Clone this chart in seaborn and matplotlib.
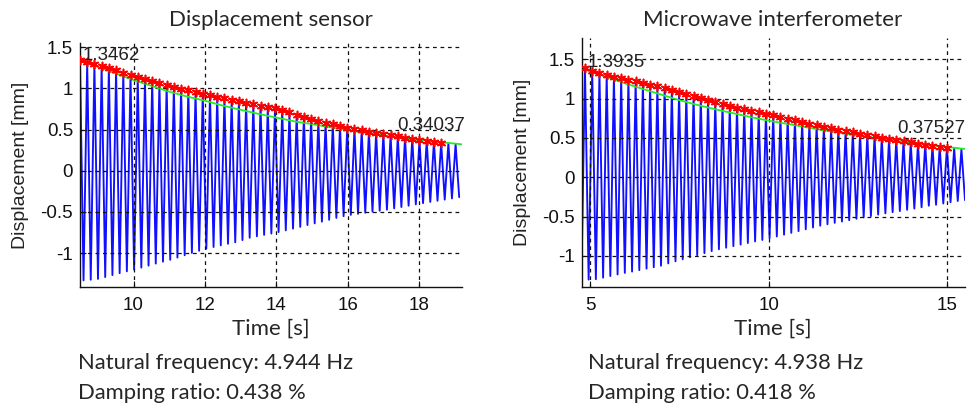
import numpy as np
import pandas as pd
import seaborn as sns
import matplotlib.pyplot as plt

# ---- Displacement sensor (left) ----
left_title = "Displacement sensor"
left_info = ["Natural frequency: 4.944 Hz", "Damping ratio: 0.438 %"]
left_peak_span = (8.50, 19.02)      # first / last peak time [s]
left_trough_span = (8.60, 19.12)    # first / last trough time [s]
left_peaks = [1.3462, 1.320, 1.292, 1.267, 1.243, 1.218, 1.190, 1.162, 1.136, 1.111,
              1.087, 1.063, 1.039, 1.017, 0.997, 0.977, 0.956, 0.936, 0.917, 0.899,
              0.881, 0.863, 0.844, 0.826, 0.808, 0.790, 0.774, 0.758, 0.734, 0.707,
              0.681, 0.655, 0.628, 0.606, 0.583, 0.562, 0.542, 0.521, 0.505, 0.489,
              0.474, 0.459, 0.445, 0.431, 0.417, 0.403, 0.389, 0.375, 0.364, 0.353,
              0.34037, 0.334, 0.325]
left_troughs = [-1.330, -1.322, -1.312, -1.290, -1.266, -1.243, -1.220, -1.198, -1.175, -1.151,
                -1.126, -1.103, -1.080, -1.053, -1.025, -0.997, -0.971, -0.946, -0.925, -0.905,
                -0.886, -0.868, -0.841, -0.813, -0.795, -0.778, -0.762, -0.744, -0.723, -0.702,
                -0.681, -0.659, -0.638, -0.617, -0.595, -0.572, -0.551, -0.535, -0.522, -0.509,
                -0.497, -0.485, -0.472, -0.456, -0.440, -0.424, -0.408, -0.393, -0.378, -0.364,
                -0.350, -0.336, -0.320]
left_n_stars = 51
left_fit_t = [8.5, 9.0, 9.5, 10.0, 10.5, 11.0, 11.5, 12.0, 12.5, 13.0, 13.5, 14.0,
              14.5, 15.0, 15.5, 16.0, 16.5, 17.0, 17.5, 18.0, 18.5, 19.0, 19.2]
left_fit_v = [1.35, 1.26, 1.18, 1.10, 1.03, 0.96, 0.90, 0.85, 0.79, 0.74, 0.69, 0.645,
              0.60, 0.565, 0.53, 0.49, 0.46, 0.43, 0.40, 0.375, 0.35, 0.33, 0.32]
left_xticks = [10, 12, 14, 16, 18]

# ---- Microwave interferometer (right) ----
right_title = "Microwave interferometer"
right_info = ["Natural frequency: 4.938 Hz", "Damping ratio: 0.418 %"]
right_peak_span = (4.86, 15.39)
right_trough_span = (4.76, 15.49)
right_peaks = [1.3935, 1.355, 1.325, 1.300, 1.280, 1.257, 1.237, 1.218, 1.198, 1.178,
               1.158, 1.135, 1.111, 1.087, 1.062, 1.037, 1.010, 0.983, 0.955, 0.928,
               0.901, 0.882, 0.864, 0.846, 0.828, 0.810, 0.791, 0.769, 0.747, 0.724,
               0.702, 0.680, 0.662, 0.644, 0.625, 0.607, 0.589, 0.571, 0.554, 0.537,
               0.520, 0.503, 0.488, 0.473, 0.458, 0.443, 0.428, 0.416, 0.403, 0.391,
               0.37527, 0.367, 0.358]
right_troughs = [-1.330, -1.300, -1.295, -1.275, -1.255, -1.235, -1.215, -1.198, -1.180, -1.161,
                 -1.143, -1.124, -1.094, -1.068, -1.042, -1.016, -0.990, -0.964, -0.938, -0.915,
                 -0.895, -0.875, -0.855, -0.835, -0.815, -0.796, -0.774, -0.752, -0.729, -0.706,
                 -0.684, -0.661, -0.638, -0.615, -0.597, -0.579, -0.562, -0.545, -0.527, -0.510,
                 -0.493, -0.474, -0.458, -0.443, -0.429, -0.413, -0.397, -0.381, -0.361, -0.349,
                 -0.333, -0.317, -0.301, -0.290]
right_n_stars = 51
right_fit_t = [4.86, 5.5, 6.0, 6.5, 7.0, 7.5, 8.0, 8.5, 9.0, 9.5, 10.0, 10.5, 11.0,
               11.5, 12.0, 12.5, 13.0, 13.5, 14.0, 14.5, 15.0, 15.5]
right_fit_v = [1.37, 1.27, 1.19, 1.12, 1.05, 0.98, 0.92, 0.865, 0.815, 0.765, 0.72, 0.68, 0.64,
               0.60, 0.565, 0.53, 0.50, 0.47, 0.44, 0.41, 0.385, 0.36]
right_xticks = [5, 10, 15]

yticks = [-1, -0.5, 0, 0.5, 1, 1.5]
ytick_labels = ["-1", "-0.5", "0", "0.5", "1", "1.5"]

sns.set_style("ticks")
plt.rcParams["font.family"] = ["Liberation Sans", "DejaVu Sans"]
ARIAL = ["Liberation Sans", "DejaVu Sans"]
SANS2 = ["Lato", "DejaVu Sans"]


def panel(ax, peak_span, peaks, trough_span, troughs, n_stars, fit_t, fit_v,
          xlim, ylim, xticks, mark_first, mark_last):
    pt = np.linspace(peak_span[0], peak_span[1], len(peaks))
    tt = np.linspace(trough_span[0], trough_span[1], len(troughs))
    sig = pd.DataFrame({"t": np.concatenate([pt, tt]),
                        "v": np.concatenate([peaks, troughs])}).sort_values("t")
    sns.lineplot(data=sig, x="t", y="v", ax=ax, color="#1010ff", lw=1.35,
                 estimator=None, sort=False, zorder=2)
    sns.lineplot(x=fit_t, y=fit_v, ax=ax, color="#22ee22", lw=1.3,
                 estimator=None, sort=False, zorder=3)
    sns.scatterplot(x=pt[:n_stars], y=peaks[:n_stars], ax=ax, marker=(6, 2, 0),
                    color="#ff0000", edgecolor="#ff0000", s=34, linewidth=1.2, zorder=4)
    ax.set_xlim(*xlim)
    ax.set_ylim(*ylim)
    ax.set_xticks(xticks)
    ax.set_yticks(yticks)
    ax.set_yticklabels(ytick_labels)
    ax.grid(True, color="#111111", linestyle=(0, (3, 3)), linewidth=0.9)
    ax.set_axisbelow(False)
    ax.tick_params(direction="in", length=4, width=0.8, labelsize=13.5, colors="#111111")
    ax.tick_params(axis="x", pad=7)
    ax.tick_params(axis="y", pad=5)
    for lab in ax.get_xticklabels() + ax.get_yticklabels():
        lab.set_family(ARIAL)
    for s in ["top", "right"]:
        ax.spines[s].set_visible(False)
    for s in ["left", "bottom"]:
        ax.spines[s].set_linewidth(1.0)
        ax.spines[s].set_color("#111111")
    ax.set_xlabel("")
    ax.set_ylabel("Displacement [mm]", fontsize=14, color="#222222", family=ARIAL)
    ax.yaxis.label.set_va("center")
    ax.yaxis.set_label_coords(-0.155, 0.5)
    ax.text(mark_first[0], mark_first[1], f"{peaks[0]:.5g}", ha="left", va="center",
            fontsize=13.5, color="#222222", zorder=5, family=ARIAL)
    ax.text(mark_last[0], mark_last[1], f"{peaks[n_stars - 1]:.5g}", ha="right",
            va="center", fontsize=13.5, color="#222222", zorder=5, family=ARIAL)


fig = plt.figure(figsize=(9.68, 4.08), dpi=100)
ax_l = fig.add_axes([0.0826, 0.2966, 0.3947, 0.598])
ax_r = fig.add_axes([0.6012, 0.2958, 0.3957, 0.611])

panel(ax_l, left_peak_span, left_peaks, left_trough_span, left_troughs, left_n_stars,
      left_fit_t, left_fit_v, (8.5, 19.2), (-1.41, 1.55), left_xticks,
      (8.58, 1.40), (19.28, 0.555))
panel(ax_r, right_peak_span, right_peaks, right_trough_span, right_troughs, right_n_stars,
      right_fit_t, right_fit_v, (4.776, 15.49), (-1.398, 1.77), right_xticks,
      (4.94, 1.453), (15.49, 0.623))

for cx, x0, title, info in [(271, 78, left_title, left_info),
                            (773, 588, right_title, right_info)]:
    fig.text(cx / 968, 1 - 20 / 408, title, ha="center", va="center",
             fontsize=16, family=SANS2)
    fig.text(cx / 968, 1 - 329 / 408, "Time [s]", ha="center", va="center",
             fontsize=16, family=SANS2)
    fig.text(x0 / 968, 1 - 363 / 408, info[0], ha="left", va="center",
             fontsize=15.8, family=SANS2)
    fig.text(x0 / 968, 1 - 393 / 408, info[1], ha="left", va="center",
             fontsize=15.8, family=SANS2)

fig.savefig("out.png", dpi=100)
